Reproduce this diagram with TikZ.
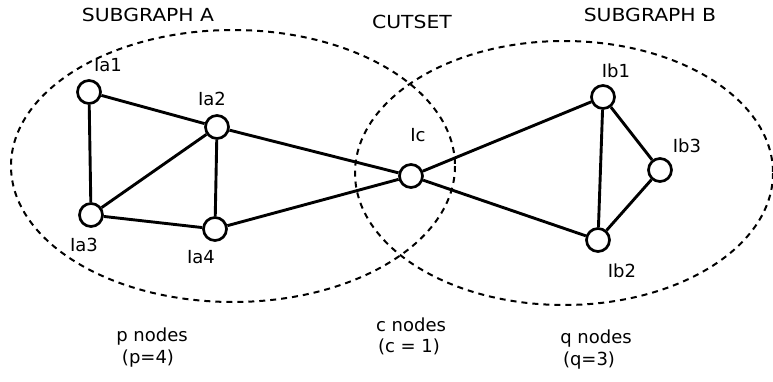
\documentclass[tikz,border=0pt]{standalone}
\usepackage{fontspec}
\setmainfont{DejaVu Sans}
\begin{document}
\begin{tikzpicture}[x=1pt,y=-1pt,
  vert/.style={circle,draw,line width=2.7pt,minimum size=23pt,inner sep=0pt,fill=white},
  edge/.style={line width=2.9pt},
  region/.style={line width=2pt,dash pattern=on 6pt off 5pt},
  lbl/.style={font=\fontsize{18}{21}\selectfont,inner sep=0pt},
  title/.style={lbl}]
\useasboundingbox[fill=white] (0,0) rectangle (773,381);
\draw[region] (233,166) ellipse [x radius=222, y radius=136];
\draw[region] (564,173) ellipse [x radius=209, y radius=132];
\node[vert] (a1) at (89,92) {};
\node[vert] (a2) at (217,127) {};
\node[vert] (a3) at (91,215) {};
\node[vert] (a4) at (215,229) {};
\node[vert] (c) at (411,176) {};
\node[vert] (b1) at (603,97) {};
\node[vert] (b2) at (598,240) {};
\node[vert] (b3) at (660,170) {};
\draw[edge] (a1) -- (a2);
\draw[edge] (a1) -- (a3);
\draw[edge] (a2) -- (a3);
\draw[edge] (a2) -- (a4);
\draw[edge] (a3) -- (a4);
\draw[edge] (a2) -- (c);
\draw[edge] (a4) -- (c);
\draw[edge] (c) -- (b1);
\draw[edge] (c) -- (b2);
\draw[edge] (b1) -- (b2);
\draw[edge] (b1) -- (b3);
\draw[edge] (b3) -- (b2);
\node[lbl] (la1) at (108,65) {Ia1};
\node[lbl] (la2) at (212,99) {Ia2};
\node[lbl] (la3) at (84,245) {Ia3};
\node[lbl] (la4) at (201,257) {Ia4};
\node[lbl] (lc) at (418,135) {Ic};
\node[lbl] (lb1) at (616,71) {Ib1};
\node[lbl] (lb3) at (687,146) {Ib3};
\node[lbl] (lb2) at (622,271) {Ib2};
\node[title] (ta) at (148,15) {\scalebox{1.13}[1]{SUBGRAPH A}};
\node[title] (tc) at (412,22) {\scalebox{1.13}[1]{CUTSET}};
\node[title] (tb) at (650,15) {\scalebox{1.13}[1]{SUBGRAPH B}};
\node[lbl] (pn) at (152,337) {p nodes};
\node[lbl] (pv) at (148,359) {(p=4)};
\node[lbl] (cn) at (411,325) {c nodes};
\node[lbl] (cv) at (409,347) {(c = 1)};
\node[lbl] (qn) at (596,339) {q nodes};
\node[lbl] (qv) at (589,361) {(q=3)};
\end{tikzpicture}
\end{document}
